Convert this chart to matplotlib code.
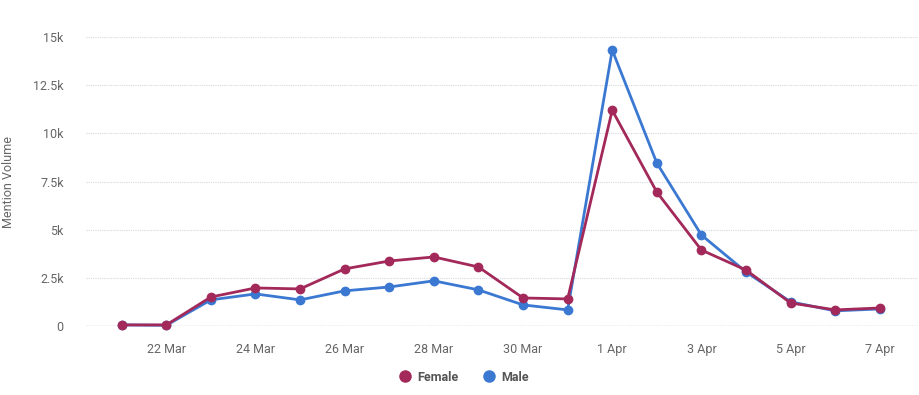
import matplotlib.pyplot as plt
import matplotlib.dates as mdates
import numpy as np
from datetime import datetime, timedelta

plt.rcParams['font.family'] = ['Roboto', 'DejaVu Sans']

# daily mention volume, 21 Mar to 7 Apr
dates = [datetime(2020, 3, 21) + timedelta(days=i) for i in range(18)]
female = [50, 50, 1500, 1970, 1920, 2960, 3370, 3580, 3060, 1450, 1400,
          11200, 6950, 3940, 2900, 1190, 830, 930]
male = [50, 30, 1350, 1660, 1350, 1820, 2020, 2340, 1870, 1090, 830,
        14330, 8460, 4720, 2800, 1250, 780, 880]

y_ticks = [0, 2500, 5000, 7500, 10000, 12500, 15000]
y_labels = ['0', '2.5k', '5k', '7.5k', '10k', '12.5k', '15k']

female_color = '#a3295a'
male_color = '#3b78d1'

fig = plt.figure(figsize=(9.2, 3.95), dpi=100)
ax = fig.add_axes([0.0935, 0.175, 0.904, 0.731])

ax.plot(dates, male, color=male_color, lw=2, marker='o', ms=6, label='Male',
        clip_on=False, zorder=3)
ax.plot(dates, female, color=female_color, lw=2, marker='o', ms=6, label='Female',
        clip_on=False, zorder=4)

ax.set_xlim(datetime(2020, 3, 21) - timedelta(days=0.8),
            datetime(2020, 4, 7) + timedelta(days=0.85))
ax.set_ylim(0, 15000)
ax.set_yticks(y_ticks)
ax.set_yticklabels(y_labels)
tick_dates = [datetime(2020, 3, 22) + timedelta(days=2 * i) for i in range(9)]
ax.set_xticks(tick_dates)
ax.xaxis.set_major_formatter(mdates.DateFormatter('%-d %b'))

for y in y_ticks[1:]:
    ax.axhline(y, color='#d4d8e0', lw=0.8, ls=(0, (1, 1)), zorder=1)
ax.axhline(0, color='#9a9ab8', lw=1, ls=(0, (1, 1)), zorder=1)

for s in ax.spines.values():
    s.set_visible(False)
ax.tick_params(length=0, colors='#666666', labelsize=9)
ax.tick_params(axis='y', pad=16)
ax.tick_params(axis='x', pad=12)
ax.set_ylabel('Mention Volume', color='#666666', fontsize=9)
ax.yaxis.set_label_coords(-0.085, 0.5)

handles, labels = ax.get_legend_handles_labels()
leg = fig.legend(handles[::-1], labels[::-1], loc='lower center', ncol=2,
                 bbox_to_anchor=(0.505, 0.0), frameon=False, fontsize=9,
                 handlelength=0.8, columnspacing=2.0, handletextpad=0.6)
for h in leg.legend_handles:
    h.set_linestyle('none')
    h.set_markersize(8)
for t in leg.get_texts():
    t.set_color('#555555')
    t.set_fontweight('bold')

fig.savefig('out.png', dpi=100)
